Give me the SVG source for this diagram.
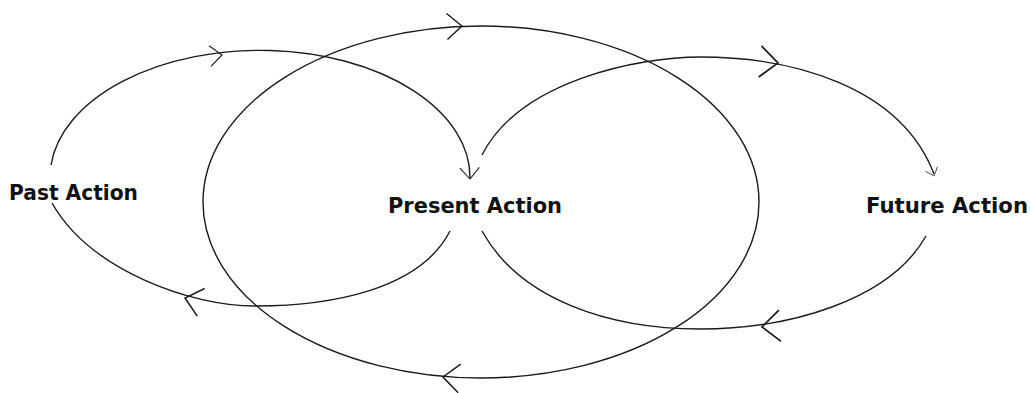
<svg xmlns="http://www.w3.org/2000/svg" xmlns:xlink="http://www.w3.org/1999/xlink" width="1031" height="393" viewBox="0 0 1031 393">
  <style>
    .line { fill: none; stroke: #1a1a1a; stroke-width: 1.4; }
    .head { fill: none; stroke: #1a1a1a; stroke-width: 1.4; stroke-linejoin: miter; }
    .label { font-family: "DejaVu Sans", "Liberation Sans", sans-serif; font-weight: bold; font-size: 21px; fill: #111; }
  </style>
  <defs>
    <path id="ah" d="M -15 -13 L 0 0 L -15 13"/>
  </defs>
  <rect width="1031" height="393" fill="#ffffff"/>

  <g id="connectors">
    <!-- Past loop -->
    <path class="line" d="M 51 165 A 210 127 0 0 1 470 178"/>
    <path class="line" d="M 450 231 C 420 290, 330 306, 255 306 C 190 306, 90 270, 52 203"/>
    <!-- Present (middle) loop -->
    <ellipse class="line" cx="481" cy="202" rx="278" ry="176"/>
    <!-- Future loop -->
    <path class="line" d="M 482 155 C 520 80, 640 57, 700 57 C 790 57, 900 85, 934 174"/>
    <path class="line" d="M 926 236 C 890 300, 790 329, 700 329 C 610 329, 520 300, 482 231"/>

    <!-- arrowheads -->
    <use xlink:href="#ah" class="head" transform="translate(222 55) rotate(-5) scale(0.8)"/>
    <use xlink:href="#ah" class="head" transform="translate(470 179) rotate(88) scale(0.75)"/>
    <use xlink:href="#ah" class="head" transform="translate(185 298) rotate(195) scale(1.1)"/>
    <use xlink:href="#ah" class="head" transform="translate(462 26) rotate(-2)"/>
    <use xlink:href="#ah" class="head" transform="translate(443 377) rotate(185) scale(1.1)"/>
    <use xlink:href="#ah" class="head" transform="translate(778 63) rotate(5) scale(1.2)"/>
    <use xlink:href="#ah" class="head" transform="translate(934 176) rotate(70) scale(0.5)"/>
    <use xlink:href="#ah" class="head" transform="translate(762 327) rotate(176) scale(1.2)"/>
  </g>

  <g id="past-action">
    <text class="label" x="9" y="200" textLength="129" lengthAdjust="spacingAndGlyphs">Past Action</text>
  </g>
  <g id="present-action">
    <text class="label" x="388" y="213" textLength="174" lengthAdjust="spacingAndGlyphs">Present Action</text>
  </g>
  <g id="future-action">
    <text class="label" x="866" y="213" textLength="162" lengthAdjust="spacingAndGlyphs">Future Action</text>
  </g>
</svg>
